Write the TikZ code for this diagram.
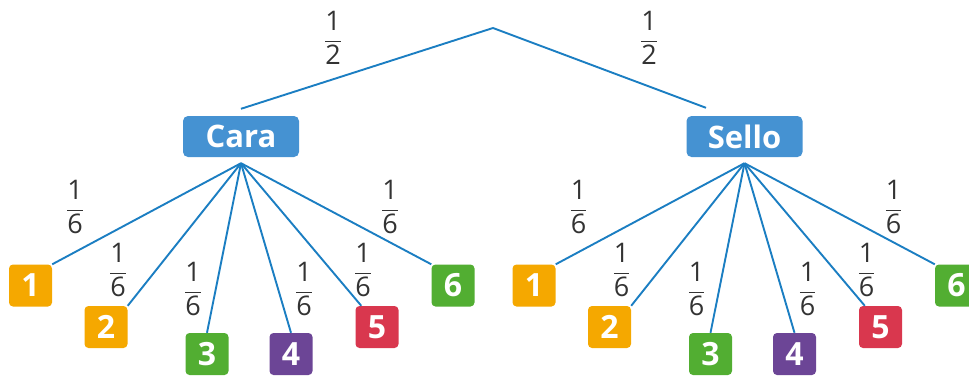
\documentclass[tikz,border=0pt]{standalone}
\usepackage{amsmath}
\usepackage{fontspec}
\setmainfont{Open Sans}
\usetikzlibrary{calc}
\definecolor{linec}{HTML}{1B7EC2}
\definecolor{boxblue}{HTML}{4592D2}
\definecolor{orng}{HTML}{F5A800}
\definecolor{grn}{HTML}{52AE32}
\definecolor{purp}{HTML}{6C4596}
\definecolor{redc}{HTML}{D9374E}
\definecolor{txt}{HTML}{333333}
\newcommand\myfr[2]{$\displaystyle\frac{\text{#1}}{\text{#2}}$}
\begin{document}
\begin{tikzpicture}[x=1pt,y=-1pt,
  branch/.style={draw=linec,line width=1.9pt},
  headbox/.style={fill=boxblue,rounded corners=5pt,minimum width=116pt,minimum height=41pt,inner sep=0pt,text=white,font=\fontsize{31}{32}\selectfont\bfseries},
  numbox/.style={fill=#1,rounded corners=4pt,minimum width=43pt,minimum height=42pt,inner sep=0pt,text=white,font=\fontsize{32}{34}\selectfont\bfseries},
  prob/.style={text=txt,inner sep=0pt,font=\fontsize{27}{30}\selectfont}]
\useasboundingbox (0,0) rectangle (969,376);
\clip (0,0) rectangle (969,376);
\coordinate (root) at (493,28);
\node[headbox] (cara) at (241,136.5) {Cara};
\node[headbox] (sello) at (744.5,136.5) {Sello};
\coordinate (lend) at ($(cara.north)+(0,-7)$);
\coordinate (rend) at ($(sello.north)+(-38.5,-8)$);
\draw[branch] (lend) -- (root) -- (rend);
\node[prob] (pl) at (333,38) {\myfr{1}{2}};
\node[prob] (pr) at (649,38) {\myfr{1}{2}};
\foreach \t/\dx in {L/0,R/503.5}{
  \coordinate (o\t) at ($(cara.south)+(\dx,6)$);
  \node[numbox=orng] (a1\t) at (30.5+\dx,285.5) {1};
  \node[numbox=orng] (a2\t) at (106+\dx,327) {2};
  \node[numbox=grn]  (a3\t) at (207+\dx,354) {3};
  \node[numbox=purp] (a4\t) at (291+\dx,354) {4};
  \node[numbox=redc] (a5\t) at (377+\dx,327) {5};
  \node[numbox=grn]  (a6\t) at (453+\dx,285.5) {6};
  \draw[branch] (o\t) -- (a1\t.north east);
  \draw[branch] (o\t) -- (a2\t.north east);
  \draw[branch] (o\t) -- (a3\t.north);
  \draw[branch] (o\t) -- (a4\t.north);
  \draw[branch] (o\t) -- ($(a5\t.north west)+(6,0)$);
  \draw[branch] (o\t) -- (a6\t.north west);
  \node[prob] (f1\t) at (75+\dx,207) {\myfr{1}{6}};
  \node[prob] (f2\t) at (118+\dx,270) {\myfr{1}{6}};
  \node[prob] (f3\t) at (193+\dx,289) {\myfr{1}{6}};
  \node[prob] (f4\t) at (304+\dx,289) {\myfr{1}{6}};
  \node[prob] (f5\t) at (363+\dx,270) {\myfr{1}{6}};
  \node[prob] (f6\t) at (390+\dx,207) {\myfr{1}{6}};
}
\end{tikzpicture}
\end{document}
